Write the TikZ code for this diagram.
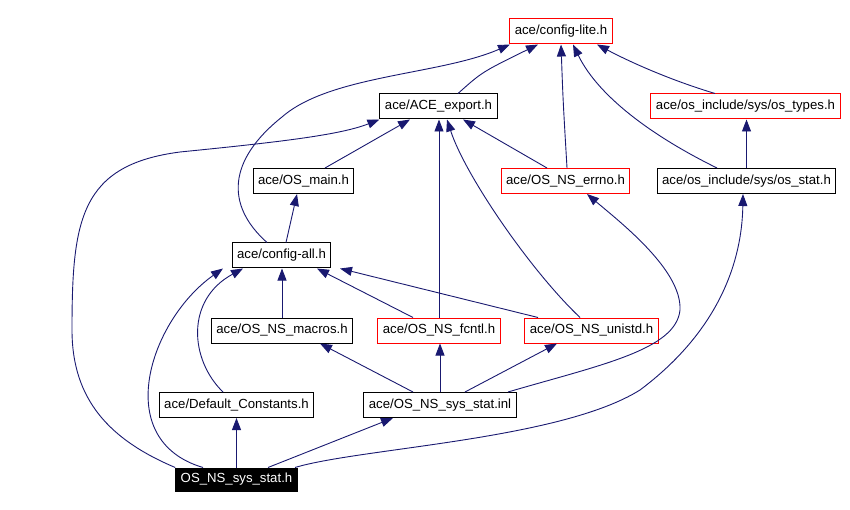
\documentclass[tikz,border=0pt]{standalone}
\usepackage{fontspec}
\setsansfont{Liberation Sans}
\usepackage{tikz}
\usetikzlibrary{arrows.meta}
\definecolor{navy}{HTML}{191970}

\begin{document}
\begin{tikzpicture}[x=1pt,y=-1pt]
\tikzstyle{every node}+=[font=\sffamily\fontsize{13.2}{15}\selectfont]
\tikzstyle{hfile}=[draw=black,line width=1pt,inner xsep=5pt,inner ysep=0pt,minimum height=25pt]
\tikzstyle{hred}=[hfile,draw=red]
\tikzstyle{hcur}=[hfile,draw=black,fill=black,text=white,minimum height=23pt]
\tikzstyle{incl}=[draw=navy,line width=0.9pt,-{Triangle[length=12pt,width=9pt]}]
\useasboundingbox (0,0) rectangle (850,510);
\node [hred] (lite) at (561,31.5) {ace/config-lite.h};
\node [hfile] (export) at (438.5,106.5) {ace/ACE\_export.h};
\node [hred] (types) at (745.5,106.5) {ace/os\_include/sys/os\_types.h};
\node [hfile] (osmain) at (303.5,181) {ace/OS\_main.h};
\node [hred] (errno) at (565.5,181) {ace/OS\_NS\_errno.h};
\node [hfile] (osstat) at (746.5,181) {ace/os\_include/sys/os\_stat.h};
\node [hfile] (cfgall) at (281.5,255.5) {ace/config-all.h};
\node [hfile] (macros) at (282,330.5) {ace/OS\_NS\_macros.h};
\node [hred] (fcntl) at (439,330.5) {ace/OS\_NS\_fcntl.h};
\node [hred] (unistd) at (591.5,330.5) {ace/OS\_NS\_unistd.h};
\node [hfile] (defconst) at (236.5,405) {ace/Default\_Constants.h};
\node [hfile] (statinl) at (440,405) {ace/OS\_NS\_sys\_stat.inl};
\node [hcur] (stath) at (236.5,479.5) {OS\_NS\_sys\_stat.h};
\draw [incl] ([xshift=19.5pt]export.north) .. controls (482,72) .. ([xshift=-23pt]lite.south);
\draw [incl] ([xshift=-14.5pt]cfgall.north) .. controls (225,205) and (228,160) .. (282,117) .. controls (330,75) and (440,75) .. ([xshift=-51pt]lite.south);
\draw [incl] ([xshift=1.5pt]errno.north) .. controls (563,100) .. (lite.south);
\draw [incl] ([xshift=-29.5pt]osstat.north) .. controls (660,140) and (600,100) .. ([xshift=12pt]lite.south);
\draw [incl] ([xshift=-30.5pt]types.north) .. controls (670,80) and (630,62) .. ([xshift=36pt]lite.south);
\draw [incl] (osstat.north) -- (osstat.north |- types.south);
\draw [incl] ([xshift=21.5pt]osmain.north) -- ([xshift=-28.5pt]export.south);
\draw [incl] ([xshift=-18.5pt]errno.north) -- ([xshift=24.5pt]export.south);
\draw [incl] (fcntl.north) -- (fcntl.north |- export.south);
\draw [incl] ([xshift=-11.5pt]unistd.north) .. controls (530,270) and (465,175) .. ([xshift=8.5pt]export.south);
\draw [incl] (stath.north west) .. controls (110,440) and (72,400) .. (72,330) .. controls (72,220) and (80,165) .. (180,152) .. controls (280,142) and (340,135) .. (export.south west);
\draw [incl] ([xshift=4.5pt]cfgall.north) -- ([xshift=-6.5pt]osmain.south);
\draw [incl] (macros.north) -- (macros.north |- cfgall.south);
\draw [incl] ([xshift=-26pt]fcntl.north) -- ([xshift=35.5pt]cfgall.south);
\draw [incl] ([xshift=-53.5pt]unistd.north) -- ([xshift=58.5pt]cfgall.south);
\draw [incl] ([xshift=-13.5pt]defconst.north) .. controls (190,360) and (185,300) .. ([xshift=-38.5pt]cfgall.south);
\draw [incl] ([xshift=-33.5pt]stath.north) .. controls (110,440) and (150,320) .. ([xshift=-58.5pt]cfgall.south);
\draw [incl] ([xshift=-27pt]statinl.north) -- ([xshift=38pt]macros.south);
\draw [incl] (statinl.north) -- (statinl.north |- fcntl.south);
\draw [incl] ([xshift=25pt]statinl.north) -- ([xshift=-34.5pt]unistd.south);
\draw [incl] ([xshift=68pt]statinl.north) .. controls (600,365) and (676,350) .. (680,310) .. controls (682,270) and (620,222) .. ([xshift=21.5pt]errno.south);
\draw [incl] (stath.north) -- (defconst.south);
\draw [incl] ([xshift=31.5pt]stath.north) -- ([xshift=-47pt]statinl.south);
\draw [incl] ([xshift=58.5pt]stath.north) .. controls (360,448) and (560,440) .. (640,390) .. controls (720,330) and (742,260) .. ([xshift=-3.5pt]osstat.south);
\end{tikzpicture}
\end{document}
